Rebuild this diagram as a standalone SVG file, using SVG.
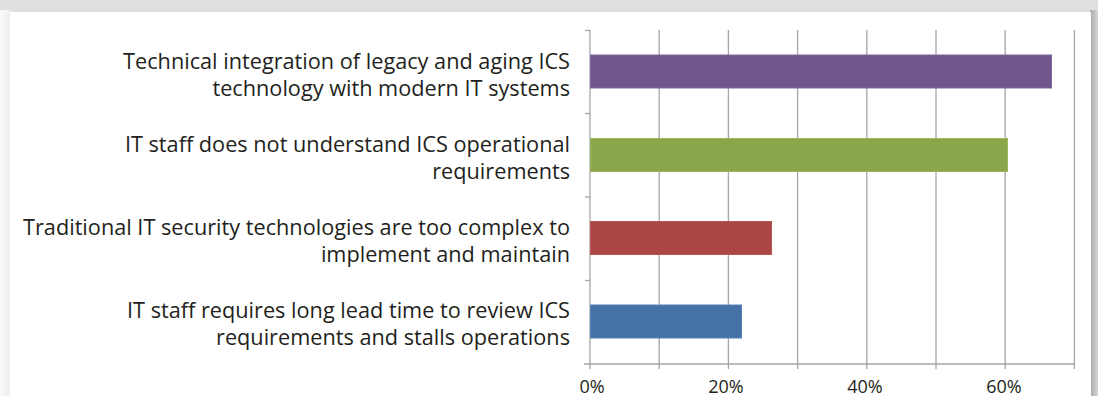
<svg xmlns="http://www.w3.org/2000/svg" width="1098" height="396" viewBox="0 0 1098 396">
<defs>
<linearGradient id="topg" x1="0" y1="0" x2="0" y2="1"><stop offset="0" stop-color="#dfdfdf"/><stop offset="1" stop-color="#eeeeee"/></linearGradient>
<linearGradient id="rightg" x1="0" y1="0" x2="1" y2="0"><stop offset="0" stop-color="#a8a8a8"/><stop offset="1" stop-color="#d6d6d6"/></linearGradient>
<linearGradient id="leftg" x1="0" y1="0" x2="1" y2="0"><stop offset="0" stop-color="#fafafa"/><stop offset="1" stop-color="#ededed"/></linearGradient>
<style>
.lbl{font-family:"Open Sans","Liberation Sans",sans-serif;font-size:21.7px;fill:#231f20;text-anchor:end}
.tick{font-family:"Open Sans","Liberation Sans",sans-serif;font-size:18px;fill:#231f20;text-anchor:middle}
.grid{stroke:#a6a6a6;stroke-width:1.3;fill:none}
.bar{stroke-width:1}
</style>
</defs>
<rect x="0" y="0" width="1098" height="396" fill="url(#topg)"/>
<rect x="0" y="10" width="11" height="386" fill="url(#leftg)"/>
<rect x="1090" y="10" width="8" height="386" fill="url(#rightg)"/>
<rect id="panel" x="10" y="12" width="1081" height="390" fill="#ffffff"/>

<g id="axes">
<g class="grid">
<line x1="659.2" y1="30" x2="659.2" y2="369"/>
<line x1="728.4" y1="30" x2="728.4" y2="369"/>
<line x1="797.6" y1="30" x2="797.6" y2="369"/>
<line x1="866.8" y1="30" x2="866.8" y2="369"/>
<line x1="936" y1="30" x2="936" y2="369"/>
<line x1="1005.2" y1="30" x2="1005.2" y2="369"/>
<line x1="1074.4" y1="30" x2="1074.4" y2="369"/>
<line x1="590" y1="30" x2="590" y2="369"/>
<line x1="584" y1="364" x2="1074.4" y2="364"/>
<line x1="585" y1="30.5" x2="590" y2="30.5"/>
<line x1="585" y1="113.5" x2="590" y2="113.5"/>
<line x1="585" y1="197" x2="590" y2="197"/>
<line x1="585" y1="280.5" x2="590" y2="280.5"/>
</g>
<text class="tick" x="592" y="393">0%</text>
<text class="tick" x="726" y="393">20%</text>
<text class="tick" x="865" y="393">40%</text>
<text class="tick" x="1004" y="393">60%</text>
</g>

<g id="bar1">
<rect class="bar" x="590.5" y="55" width="461" height="33" fill="#6f578c" stroke="#7e68a0"/>
<text class="lbl" x="570" y="69">Technical integration of legacy and aging ICS</text>
<text class="lbl" x="570" y="96">technology with modern IT systems</text>
</g>
<g id="bar2">
<rect class="bar" x="590.5" y="138.5" width="417" height="33" fill="#8ba54b" stroke="#9bb75e"/>
<text class="lbl" x="570" y="152">IT staff does not understand ICS operational</text>
<text class="lbl" x="570" y="179">requirements</text>
</g>
<g id="bar3">
<rect class="bar" x="590.5" y="221.5" width="181" height="33" fill="#aa4644" stroke="#bb5553"/>
<text class="lbl" x="570" y="235">Traditional IT security technologies are too complex to</text>
<text class="lbl" x="570" y="262">implement and maintain</text>
</g>
<g id="bar4">
<rect class="bar" x="590.5" y="305" width="151" height="33" fill="#4672a8" stroke="#5582b8"/>
<text class="lbl" x="570" y="318">IT staff requires long lead time to review ICS</text>
<text class="lbl" x="570" y="345">requirements and stalls operations</text>
</g>
</svg>
